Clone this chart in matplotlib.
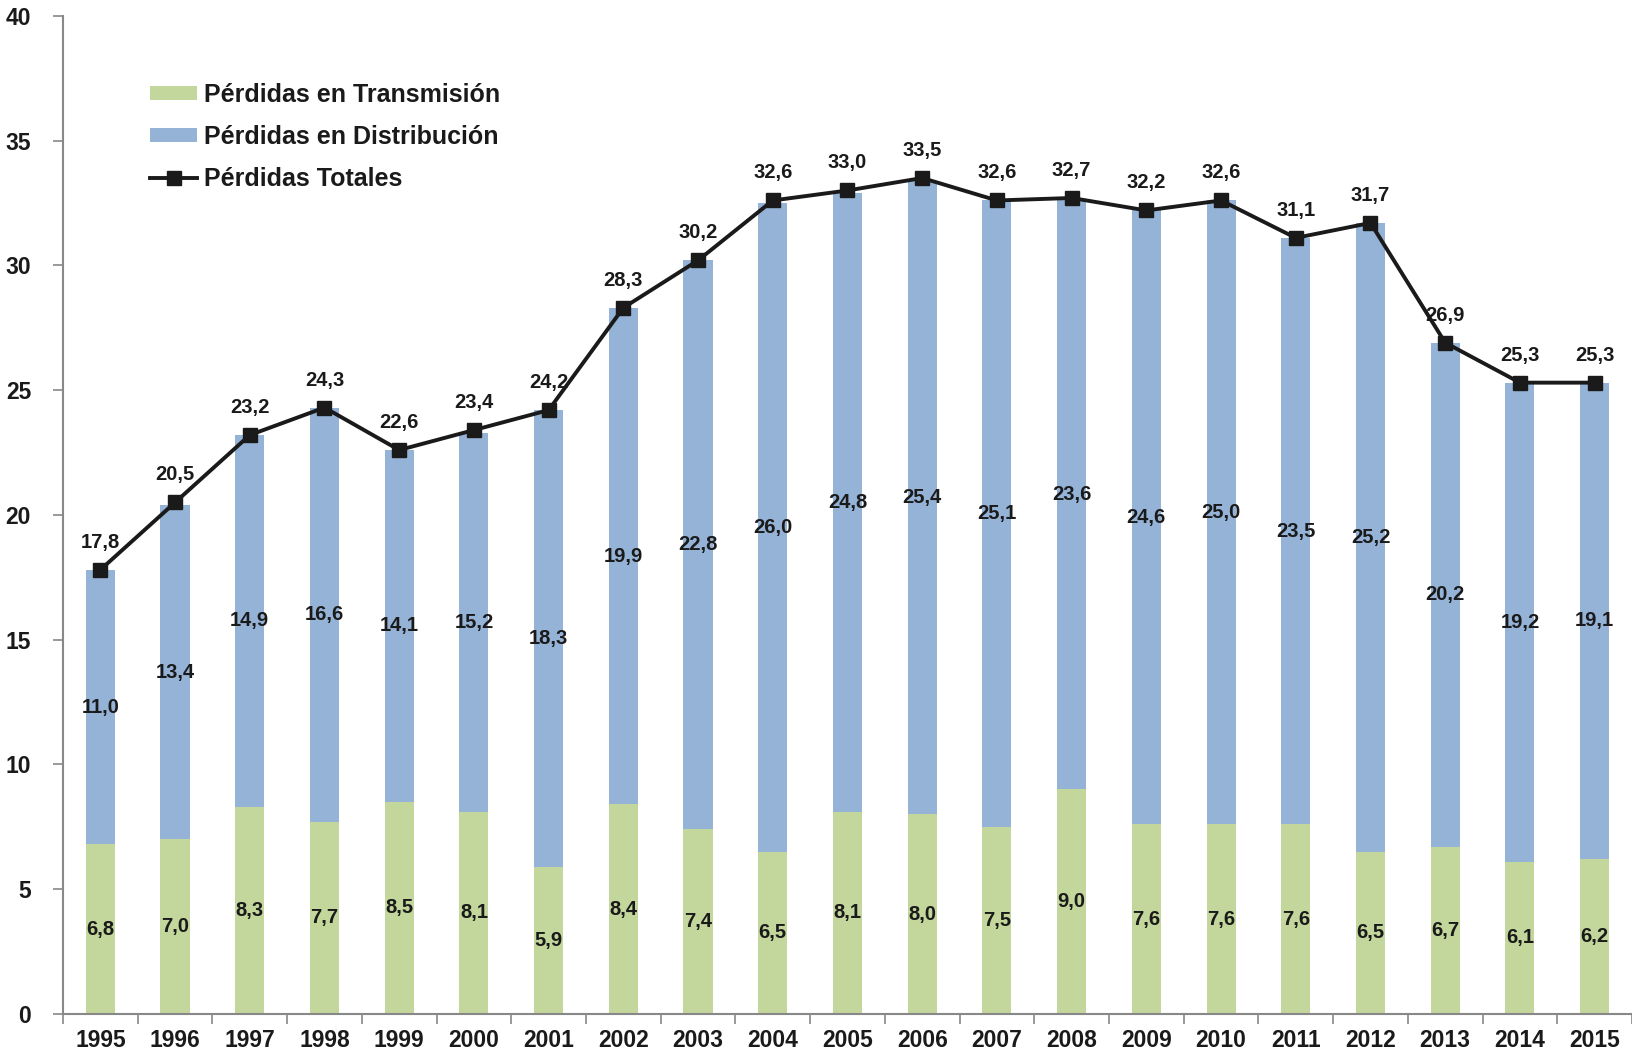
import matplotlib.pyplot as plt
import numpy as np

# Datos (TWh aprox.)
years = ["1995", "1996", "1997", "1998", "1999", "2000", "2001", "2002", "2003", "2004", "2005",
         "2006", "2007", "2008", "2009", "2010", "2011", "2012", "2013", "2014", "2015"]
transmision = [6.8, 7.0, 8.3, 7.7, 8.5, 8.1, 5.9, 8.4, 7.4, 6.5, 8.1,
               8.0, 7.5, 9.0, 7.6, 7.6, 7.6, 6.5, 6.7, 6.1, 6.2]
distribucion = [11.0, 13.4, 14.9, 16.6, 14.1, 15.2, 18.3, 19.9, 22.8, 26.0, 24.8,
                25.4, 25.1, 23.6, 24.6, 25.0, 23.5, 25.2, 20.2, 19.2, 19.1]
totales = [17.8, 20.5, 23.2, 24.3, 22.6, 23.4, 24.2, 28.3, 30.2, 32.6, 33.0,
           33.5, 32.6, 32.7, 32.2, 32.6, 31.1, 31.7, 26.9, 25.3, 25.3]

plt.rcParams['font.family'] = ['Liberation Sans', 'DejaVu Sans']
plt.rcParams['font.weight'] = 'bold'

def fmt(v):
    return f"{v:.1f}".replace(".", ",")

fig = plt.figure(figsize=(16.32, 10.53), dpi=100)
ax = fig.add_axes([0.0386, 0.037, 0.9614, 0.948])

x = np.arange(len(years))
w = 0.39
verde = "#C3D69B"
azul = "#95B3D7"
negro = "#1a1a1a"

b1 = ax.bar(x, transmision, w, color=verde, label="Pérdidas en Transmisión")
b2 = ax.bar(x, distribucion, w, bottom=transmision, color=azul, label="Pérdidas en Distribución")
l1, = ax.plot(x, totales, color=negro, lw=2.8, marker="s", markersize=10,
              label="Pérdidas Totales")

# Etiquetas de datos
for i in range(len(years)):
    t = transmision[i]
    d = distribucion[i]
    ax.text(x[i], t / 2, fmt(t), ha="center", va="center", fontsize=14.5,
            fontweight="bold", color=negro)
    ax.text(x[i], t + d / 2, fmt(d), ha="center", va="center", fontsize=14.5,
            fontweight="bold", color=negro)
    ax.annotate(fmt(totales[i]), (x[i], totales[i]), xytext=(0, 13),
                textcoords="offset points", ha="center", va="bottom",
                fontsize=14.5, fontweight="bold", color=negro)

# Ejes
ax.set_ylim(0, 40)
ax.set_xlim(-0.5, len(years) - 0.5)
ax.set_yticks(range(0, 41, 5))
ax.set_xticks(x)
ax.set_xticklabels(years)
ax.set_xticks(np.arange(-0.5, len(years), 1), minor=True)
ax.tick_params(axis="x", which="major", length=0, pad=11, labelsize=16.5)
ax.tick_params(axis="x", which="minor", length=7, width=1.2, color="#888888", direction="out")
ax.tick_params(axis="y", length=7, width=1.2, color="#888888", pad=16, labelsize=16.5)
for lbl in ax.get_xticklabels() + ax.get_yticklabels():
    lbl.set_fontweight("bold")
    lbl.set_color(negro)

for s in ["top", "right"]:
    ax.spines[s].set_visible(False)
for s in ["left", "bottom"]:
    ax.spines[s].set_color("#888888")
    ax.spines[s].set_linewidth(1.5)

leg = ax.legend([b1, b2, l1], ["Pérdidas en Transmisión", "Pérdidas en Distribución", "Pérdidas Totales"],
                loc="upper left", bbox_to_anchor=(0.041, 0.955), frameon=False,
                handlelength=1.9, handleheight=0.5, handletextpad=0.25, labelspacing=0.72,
                prop={"weight": "bold", "size": 18})
for txt in leg.get_texts():
    txt.set_color(negro)

plt.savefig("out.png", dpi=100)
plt.close(fig)
